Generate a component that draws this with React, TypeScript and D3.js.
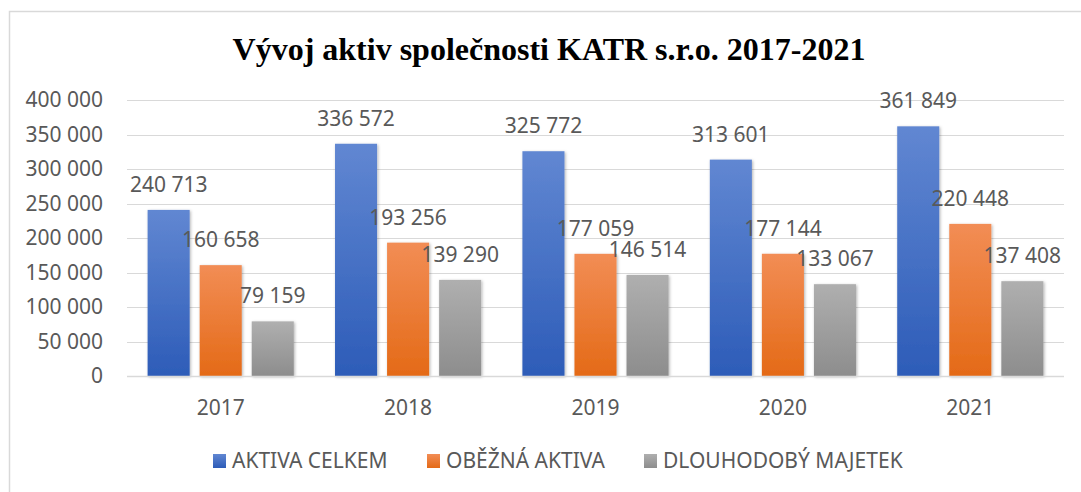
import React from "react";
import * as d3 from "d3";

const years = ["2017", "2018", "2019", "2020", "2021"];
const seriesNames = ["AKTIVA CELKEM", "OBĚŽNÁ AKTIVA", "DLOUHODOBÝ MAJETEK"];
const aktivaCelkem = [240713, 336572, 325772, 313601, 361849];
const obeznaAktiva = [160658, 193256, 177059, 177144, 220448];
const dlouhodobyMajetek = [79159, 139290, 146514, 133067, 137408];
const yTicks = [0, 50000, 100000, 150000, 200000, 250000, 300000, 350000, 400000];
const title = "Vývoj aktiv společnosti KATR s.r.o. 2017-2021";

const seriesValues = [aktivaCelkem, obeznaAktiva, dlouhodobyMajetek];
const gradients = [
  ["#6187d2", "#2d5cb8"],
  ["#f28d55", "#e46a17"],
  ["#afafaf", "#8d8d8d"],
];

const W = 1081;
const H = 492;
const fmt = (v: number) => {
  const s = Math.round(v).toString();
  return s.replace(/\B(?=(\d{3})+(?!\d))/g, " ");
};

export default function App() {
  const x0 = d3.scaleBand<string>().domain(years).range([127, 1064]).paddingInner(0.22).paddingOuter(0.11);
  const x1 = d3.scaleBand<number>().domain([0, 1, 2]).range([0, x0.bandwidth()]).paddingInner(0.192).paddingOuter(0);
  const y = d3.scaleLinear().domain([0, 400000]).range([376, 100]);
  const font = "'Noto Sans', 'Open Sans', sans-serif";
  const textColor = "#595959";

  const legendX = [213, 427, 644];

  return (
    <svg width={W} height={H} style={{ position: "absolute", left: 0, top: 0, background: "#fff" }}>
      <defs>
        {gradients.map((g, i) => (
          <linearGradient key={i} id={`grad${i}`} x1="0" y1="0" x2="0" y2="1">
            <stop offset="0%" stopColor={g[0]} />
            <stop offset="100%" stopColor={g[1]} />
          </linearGradient>
        ))}
        <filter id="shadow" x="-20%" y="-20%" width="140%" height="140%">
          <feDropShadow dx="1" dy="1" stdDeviation="1.5" floodColor="#000" floodOpacity="0.3" />
        </filter>
      </defs>
      <rect x={0} y={0} width={W} height={H} fill="#fff" />
      <rect x={9.5} y={11.5} width={W + 10} height={H + 10} fill="#fff" stroke="#d9d9d9" strokeWidth={1.5} />
      <text x={549} y={60} textAnchor="middle" fontFamily="'Liberation Serif', 'Times New Roman', serif" fontWeight="bold" fontSize={32} fill="#000">
        {title}
      </text>
      {yTicks.map((t) => (
        <g key={t}>
          <line x1={127} x2={1064} y1={Math.round(y(t)) + 0.5} y2={Math.round(y(t)) + 0.5} stroke="#d9d9d9" strokeWidth={1} />
          <text x={103} y={y(t)} dy="0.35em" textAnchor="end" fontFamily={font} fontSize={21} fill={textColor}>
            {fmt(t)}
          </text>
        </g>
      ))}
      {years.map((yr, i) => (
        <g key={yr} transform={`translate(${x0(yr)},0)`}>
          {seriesValues.map((vals, s) => {
            const v = vals[i];
            const bx = x1(s)!;
            const bw = x1.bandwidth();
            return (
              <g key={s}>
                <rect x={bx} y={y(v)} width={bw} height={y(0) - y(v)} fill={`url(#grad${s})`} filter="url(#shadow)" />
                <text x={bx + bw / 2} y={y(v) - 18} textAnchor="middle" fontFamily={font} fontSize={21} fill={textColor}>
                  {fmt(v)}
                </text>
              </g>
            );
          })}
          <text x={x0.bandwidth() / 2} y={415} textAnchor="middle" fontFamily={font} fontSize={21} fill={textColor}>
            {yr}
          </text>
        </g>
      ))}
      <line x1={127} x2={1064} y1={376.5} y2={376.5} stroke="#d9d9d9" strokeWidth={1.5} />
      {seriesNames.map((n, i) => (
        <g key={n}>
          <rect x={legendX[i]} y={454} width={13} height={14} fill={`url(#grad${i})`} />
          <text x={legendX[i] + 19} y={468} fontFamily={font} fontSize={21} fill={textColor}>
            {n}
          </text>
        </g>
      ))}
    </svg>
  );
}
